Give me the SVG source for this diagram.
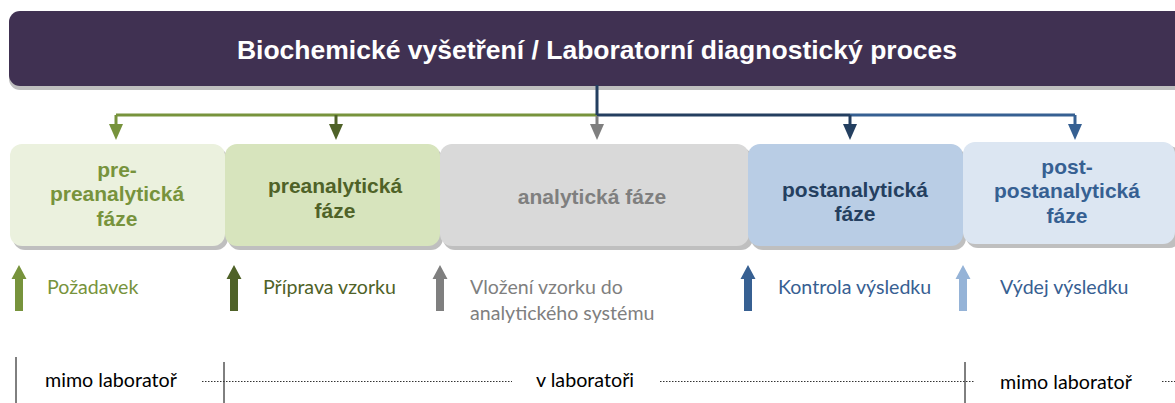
<svg xmlns="http://www.w3.org/2000/svg" xmlns:xlink="http://www.w3.org/1999/xlink" width="1175" height="403" viewBox="0 0 1175 403">
<style>
.title{font-family:"Liberation Sans",Arial,sans-serif;font-weight:bold;font-size:26.5px;fill:#ffffff;text-anchor:middle}
.box{font-family:"Liberation Sans",Arial,sans-serif;font-weight:bold;font-size:21px;text-anchor:middle}
.lbl{font-family:Lato,"Open Sans",sans-serif;font-size:19.6px}
.zone{font-family:Lato,"Open Sans",sans-serif;font-size:19.7px;fill:#000}
.shadow{fill:#bfbfbf}
.conn{fill:none;stroke-width:3}
.sep{stroke:#000;stroke-width:1}
.dot{stroke:#333;stroke-width:1;stroke-dasharray:1.5 1.5}
</style>
<defs>
<marker id="hGreen" viewBox="0 0 16 14" markerWidth="16" markerHeight="14" refX="2" refY="7" orient="auto" markerUnits="userSpaceOnUse"><path d="M0,0 L16,7 L0,14 Z" fill="#77933c"/></marker>
<marker id="hDkGreen" viewBox="0 0 16 14" markerWidth="16" markerHeight="14" refX="2" refY="7" orient="auto" markerUnits="userSpaceOnUse"><path d="M0,0 L16,7 L0,14 Z" fill="#4f6228"/></marker>
<marker id="hGrey" viewBox="0 0 16 14" markerWidth="16" markerHeight="14" refX="2" refY="7" orient="auto" markerUnits="userSpaceOnUse"><path d="M0,0 L16,7 L0,14 Z" fill="#7f7f7f"/></marker>
<marker id="hNavy" viewBox="0 0 16 14" markerWidth="16" markerHeight="14" refX="2" refY="7" orient="auto" markerUnits="userSpaceOnUse"><path d="M0,0 L16,7 L0,14 Z" fill="#243f60"/></marker>
<marker id="hBlue" viewBox="0 0 16 14" markerWidth="16" markerHeight="14" refX="2" refY="7" orient="auto" markerUnits="userSpaceOnUse"><path d="M0,0 L16,7 L0,14 Z" fill="#366092"/></marker>
<path id="up" d="M0,0 L7.5,14 L4,14 L4,46 L-4,46 L-4,14 L-7.5,14 Z"/>
</defs>

<g id="header">
<rect class="shadow" x="9" y="15" width="1190" height="75" rx="11"/>
<rect x="9" y="11" width="1190" height="75" rx="11" fill="#403152"/>
<text class="title" x="597" y="59">Biochemické vyšetření / Laboratorní diagnostický proces</text>
</g>

<g id="connectors">
<path class="conn" d="M597,115 H116" stroke="#77933c"/>
<path class="conn" d="M597,115 H850" stroke="#243f60"/>
<path class="conn" d="M850,115 H1075" stroke="#366092"/>
<path class="conn" d="M597,85 V115" stroke="#243f60"/>
<path class="conn" d="M116,115 V126" stroke="#77933c" marker-end="url(#hGreen)"/>
<path class="conn" d="M336,115 V126" stroke="#4f6228" marker-end="url(#hDkGreen)"/>
<path class="conn" d="M597,116 V126" stroke="#7f7f7f" marker-end="url(#hGrey)"/>
<path class="conn" d="M850,115 V126" stroke="#243f60" marker-end="url(#hNavy)"/>
<path class="conn" d="M1075,115 V126" stroke="#366092" marker-end="url(#hBlue)"/>
</g>

<g id="node-prepre">
<rect class="shadow" x="13" y="148" width="215" height="102" rx="12"/>
<rect x="10" y="144" width="215" height="102" rx="12" fill="#ebf1de"/>
<text class="box" fill="#77933c"><tspan x="117" y="177">pre-</tspan><tspan x="117" y="201">preanalytická</tspan><tspan x="117" y="226">fáze</tspan></text>
</g>
<g id="node-pre">
<rect class="shadow" x="228" y="148" width="215" height="102" rx="12"/>
<rect x="225" y="144" width="215" height="102" rx="12" fill="#d7e4bd"/>
<text class="box" fill="#4f6228"><tspan x="335" y="193">preanalytická</tspan><tspan x="335" y="218">fáze</tspan></text>
</g>
<g id="node-analytic">
<rect class="shadow" x="443" y="148" width="310" height="102" rx="12"/>
<rect x="440" y="144" width="309" height="102" rx="12" fill="#d9d9d9"/>
<text class="box" fill="#7f7f7f" x="592" y="204">analytická fáze</text>
</g>
<g id="node-post">
<rect class="shadow" x="751" y="148" width="215" height="102" rx="12"/>
<rect x="748" y="144" width="215" height="102" rx="12" fill="#b9cde5"/>
<text class="box" fill="#243f60"><tspan x="855" y="197">postanalytická</tspan><tspan x="855" y="221">fáze</tspan></text>
</g>
<g id="node-postpost">
<rect class="shadow" x="966" y="146" width="215" height="102" rx="12"/>
<rect x="963" y="142" width="212" height="102" rx="12" fill="#dce6f2"/>
<text class="box" fill="#366092"><tspan x="1067" y="174">post-</tspan><tspan x="1067" y="198">postanalytická</tspan><tspan x="1067" y="223">fáze</tspan></text>
</g>

<g id="step-pozadavek">
<use xlink:href="#up" href="#up" x="19" y="265" fill="#77933c"/>
<text class="lbl" x="47" y="294" fill="#77933c">Požadavek</text>
</g>
<g id="step-priprava">
<use xlink:href="#up" href="#up" x="234" y="265" fill="#4f6228"/>
<text class="lbl" x="263" y="294" fill="#4f6228">Příprava vzorku</text>
</g>
<g id="step-vlozeni">
<use xlink:href="#up" href="#up" x="440" y="265" fill="#7f7f7f"/>
<text class="lbl" fill="#7f7f7f"><tspan x="470" y="294">Vložení vzorku do</tspan><tspan x="470" y="320">analytického systému</tspan></text>
</g>
<g id="step-kontrola">
<use xlink:href="#up" href="#up" x="748" y="265" fill="#376092"/>
<text class="lbl" x="778" y="294" fill="#376092">Kontrola výsledku</text>
</g>
<g id="step-vydej">
<use xlink:href="#up" href="#up" x="963" y="265" fill="#95b3d7"/>
<text class="lbl" x="1000" y="294" fill="#376092">Výdej výsledku</text>
</g>

<g id="zones">
<line class="sep" x1="16" y1="357" x2="16" y2="403"/>
<line class="sep" x1="224" y1="362" x2="224" y2="403"/>
<line class="sep" x1="965" y1="362" x2="965" y2="403"/>
<line class="dot" x1="202" y1="381.5" x2="512" y2="381.5"/>
<line class="dot" x1="660" y1="381.5" x2="975" y2="381.5"/>
<line class="dot" x1="1162" y1="381.5" x2="1175" y2="381.5"/>
<text class="zone" x="45" y="387">mimo laboratoř</text>
<text class="zone" x="536" y="387">v laboratoři</text>
<text class="zone" x="1000" y="389">mimo laboratoř</text>
</g>
</svg>
